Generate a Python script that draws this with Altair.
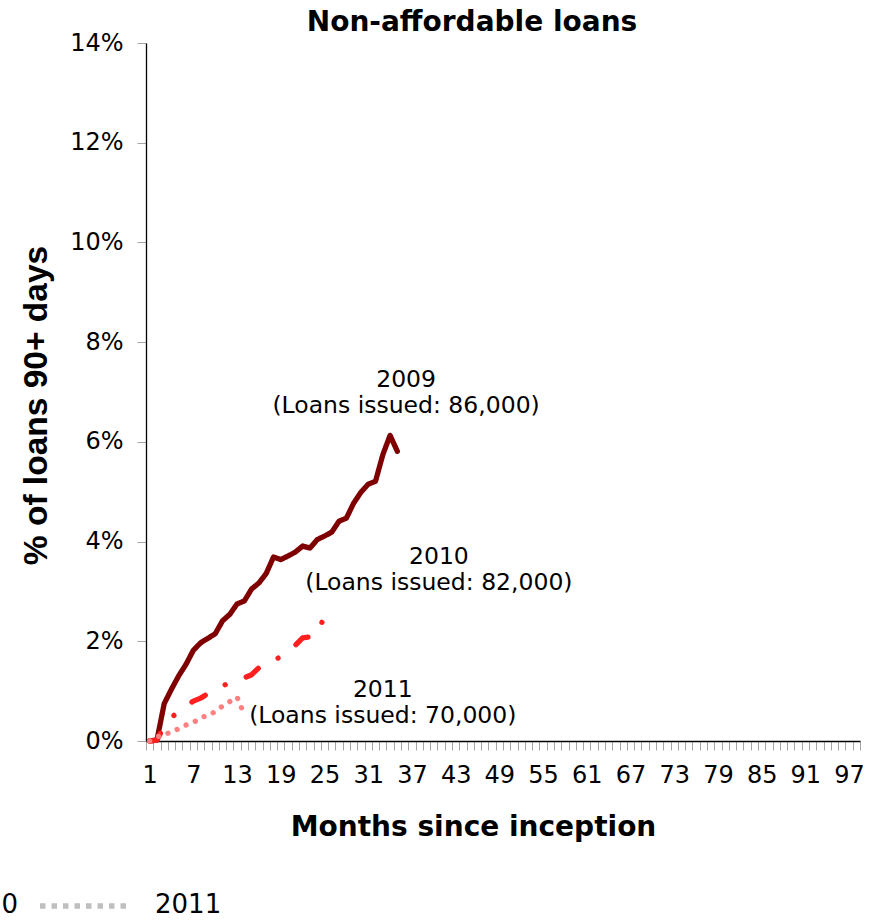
import altair as alt
import pandas as pd

# Share of loans 90+ days delinquent (%) by month since inception, per cohort
cohorts = ["2009", "2010", "2011"]
rate_2009 = [0.00, 0.02, 0.75, 1.04, 1.31, 1.54, 1.82, 1.97, 2.06, 2.15,
             2.41, 2.54, 2.75, 2.81, 3.05, 3.17, 3.36, 3.69, 3.64, 3.71,
             3.79, 3.91, 3.87, 4.04, 4.11, 4.19, 4.41, 4.47, 4.77, 4.99,
             5.15, 5.21, 5.74, 6.13, 5.81]
rate_2010 = [0.00, 0.02, 0.30, 0.47, 0.60, 0.70, 0.80, 0.86, 0.95, 1.02,
             1.10, 1.18, 1.22, 1.27, 1.33, 1.47, 1.56, 1.62, 1.69, 1.78,
             1.92, 2.07, 2.09, 2.14, 2.51]
rate_2011 = [0.00, 0.08, 0.14, 0.17, 0.25, 0.32, 0.37, 0.47, 0.51, 0.59,
             0.70, 0.79, 0.88, 0.53]

# Cohort annotations (anchored at the first text line)
loans_issued = ["86,000", "82,000", "70,000"]
label_month = [36.2, 40.7, 33.0]
label_rate = [7.24, 3.69, 1.02]

n_months = 98
y_ticks_pct = [0, 2, 4, 6, 8, 10, 12, 14]

series = {"2009": rate_2009, "2010": rate_2010, "2011": rate_2011}
rows = []
for c in cohorts:
    for i, v in enumerate(series[c], start=1):
        rows.append({"cohort": c, "month": i, "rate": v / 100})
lines_df = pd.DataFrame(rows)

labels_df = pd.DataFrame({
    "cohort": cohorts,
    "month": label_month,
    "rate": [v / 100 for v in label_rate],
    "text": [f"{c}\n(Loans issued: {n})" for c, n in zip(cohorts, loans_issued)],
})

W, H = 714, 698
half_band = W / n_months / 2

x_scale = alt.Scale(domain=[0.5, n_months + 0.5], nice=False, zero=False)
y_scale = alt.Scale(domain=[0, 0.14], nice=False, zero=True)

boundaries = [b + 0.5 for b in range(0, n_months + 1)]

x_axis = alt.Axis(
    values=boundaries,
    labelExpr="(datum.value - 0.5) % 6 == 0 ? format(datum.value + 0.5, 'd') : ''",
    labelOffset=half_band,
    labelFlush=False,
    labelOverlap=False,
    labelBound=False,
    labelFont="DejaVu Sans",
    labelFontSize=24,
    labelColor="black",
    labelPadding=13,
    tickSize=9,
    tickColor="#a6a6a6",
    tickWidth=1,
    domainColor="black",
    domainWidth=1.3,
    grid=False,
    title="Months since inception",
    titleFont="DejaVu Sans",
    titleFontSize=28,
    titleFontWeight="bold",
    titleColor="black",
    titleAlign="center",
    titleBaseline="alphabetic",
    titleX=327,
    titleY=94,
)

y_axis = alt.Axis(
    values=[v / 100 for v in y_ticks_pct],
    format=".0%",
    labelFont="DejaVu Sans",
    labelFontSize=24,
    labelColor="black",
    labelPadding=14,
    labelOverlap=False,
    tickSize=9,
    tickColor="#a6a6a6",
    tickWidth=1,
    domainColor="black",
    domainWidth=1.3,
    grid=False,
    title="% of loans 90+ days",
    titleFont="Liberation Sans",
    titleFontSize=33.5,
    titleFontWeight="bold",
    titleColor="black",
    titleAngle=270,
    titleAlign="center",
    titleBaseline="alphabetic",
    titleX=-100,
    titleY=362,
)

lines = alt.Chart(lines_df).mark_line(
    strokeWidth=5.3, strokeCap="round", strokeJoin="round"
).encode(
    x=alt.X("month:Q", scale=x_scale, axis=x_axis),
    y=alt.Y("rate:Q", scale=y_scale, axis=y_axis),
    color=alt.Color(
        "cohort:N",
        scale=alt.Scale(domain=cohorts, range=["#7f0000", "#ff1f1f", "#ff8080"]),
        legend=None,
    ),
    strokeDash=alt.StrokeDash(
        "cohort:N",
        scale=alt.Scale(
            domain=cohorts,
            range=[[1, 0], [15, 22.5, 0.01, 22.5], [0.01, 10]],
        ),
        legend=None,
    ),
)

labels = alt.Chart(labels_df).mark_text(
    font="DejaVu Sans", fontSize=23.5, lineBreak="\n", lineHeight=26,
    align="center", baseline="middle", color="black",
).encode(
    x=alt.X("month:Q", scale=x_scale, axis=x_axis),
    y=alt.Y("rate:Q", scale=y_scale, axis=y_axis),
    text="text:N",
)

# Chart heading
heading = alt.Chart(pd.DataFrame({"heading": ["Non-affordable loans"]})).mark_text(
    font="DejaVu Sans", fontSize=28, fontWeight="bold", align="center",
    baseline="alphabetic", color="black",
).encode(x=alt.value(326), y=alt.value(-12), text="heading:N")

# Bottom legend row (the 2010 entry runs past the left edge)
legend_2010 = alt.Chart(pd.DataFrame({"cohort": ["2010"]})).mark_text(
    font="DejaVu Sans", fontSize=26, align="right", baseline="middle", color="black",
).encode(x=alt.value(-128), y=alt.value(862), text="cohort:N")

legend_2011_swatch = alt.Chart(pd.DataFrame({"cohort": ["2011"]})).mark_rule(
    color="#bfbfbf", strokeWidth=5.5, strokeDash=[5.5, 6], strokeCap="butt",
).encode(x=alt.value(-106), x2=alt.value(-15), y=alt.value(863))

legend_2011 = alt.Chart(pd.DataFrame({"cohort": ["2011"]})).mark_text(
    font="DejaVu Sans", fontSize=26, align="left", baseline="middle", color="black",
).encode(x=alt.value(9), y=alt.value(862), text="cohort:N")

chart = alt.layer(
    lines, labels, heading, legend_2010, legend_2011_swatch, legend_2011
).properties(
    width=W,
    height=H,
    autosize=alt.AutoSizeParams(type="none"),
    padding={"left": 146, "top": 43, "right": 19, "bottom": 180},
    background="white",
).configure_view(
    stroke=None
).configure_axis(
    labelOverlap=False
)

chart.save("out.html", embed_options={"renderer": "svg", "actions": False})
